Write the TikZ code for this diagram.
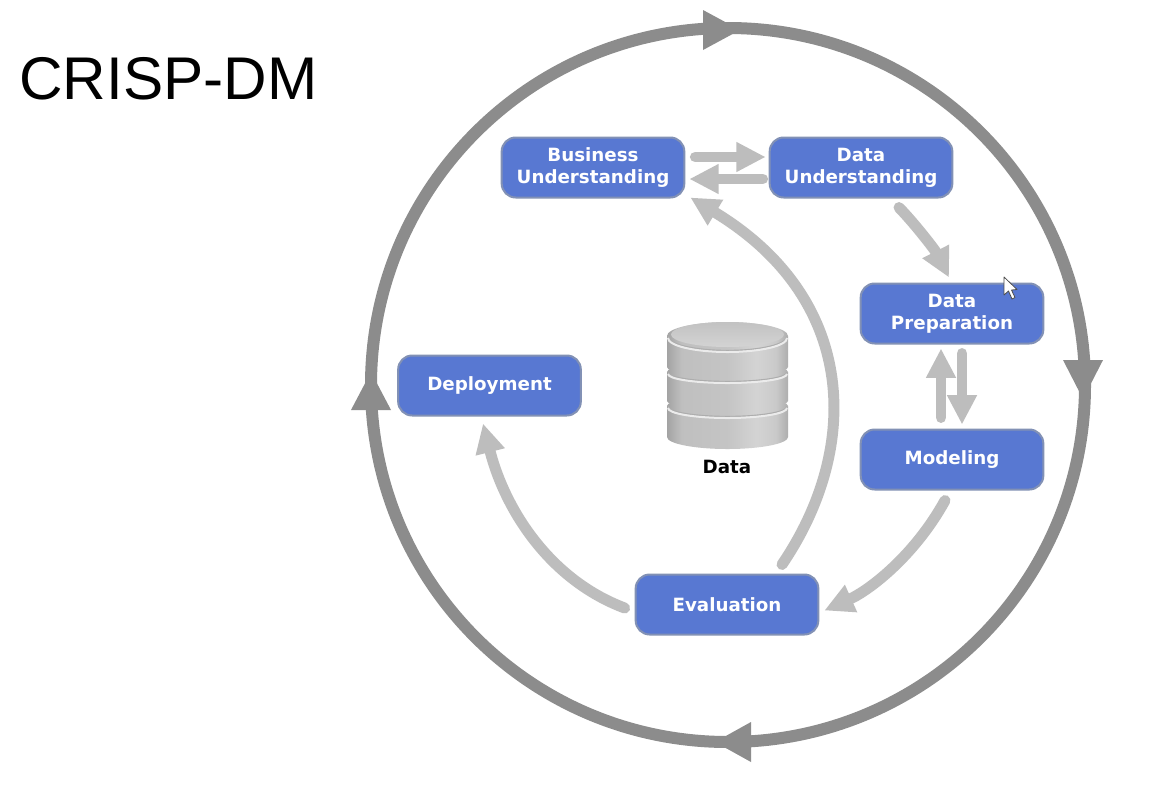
\documentclass[tikz,border=0pt]{standalone}
\usepackage{fontspec}
\setmainfont{DejaVu Sans}
\newfontfamily\titlefont{Liberation Sans}
\usetikzlibrary{arrows.meta,calc}
\definecolor{boxblue}{HTML}{5878D2}
\definecolor{boxedge}{HTML}{8291B5}
\definecolor{ringgray}{HTML}{8C8C8C}
\definecolor{flowgray}{HTML}{BDBDBD}
\pgfdeclarehorizontalshading{diskshade}{100bp}{
  color(0bp)=(black!36); color(25bp)=(black!36); color(31bp)=(black!25);
  color(50bp)=(black!23); color(62bp)=(black!17); color(70bp)=(black!21); color(75bp)=(black!32); color(100bp)=(black!32)}
\newcommand{\lowline}[1]{\raisebox{-0.8pt}{#1}}
\tikzset{
  x=0.75pt,y=-0.75pt,
  stage/.style={draw=boxedge,line width=1.5pt,fill=boxblue,rounded corners=10.5pt,
    minimum width=137pt,minimum height=45pt,inner sep=0pt,align=center,
    text=white,font=\fontsize{13.7}{16.5}\selectfont\bfseries},
  flow/.style={draw=flowgray,line width=8.2pt,line cap=round,
    -{Triangle[length=22pt,width=21pt,fill=flowgray]}},
  ring/.style={draw=ringgray,line width=9pt},
  ringhead/.style={fill=ringgray,draw=none},
  disk/.style={draw=none,shading=diskshade},
}
\newcommand{\datadisk}[4]{%
  % #1 edge top, #2 edge bottom, #3 top ellipse radius y, #4 bottom ellipse radius y
  \path[disk] (667,#1) arc[start angle=180,end angle=360,x radius=60.5,y radius=#3]
     -- (788,#2) arc[start angle=0,end angle=180,x radius=60.5,y radius=#4] -- cycle;
  \draw[black!32,line width=1pt] (668,#1+0.5) arc[start angle=180,end angle=0,x radius=59.5,y radius=#3];
  \draw[black!8,line width=1.5pt] (668,#1+2) arc[start angle=180,end angle=0,x radius=59.5,y radius=#3];
}
\begin{document}
\begin{tikzpicture}
\useasboundingbox (0,0) rectangle (1155,786);
\fill[white] (0,0) rectangle (1155,786);

\node[anchor=base west,inner sep=0pt,font=\titlefont\fontsize{45.2}{50}\selectfont] (title) at (19,99) {CRISP-DM};

% outer ring
\coordinate (ctr) at (728,385);
\draw[ring] (ctr) circle[radius=357];
\fill[ringhead] (703,10) -- (740,30) -- (703,50) -- cycle;
\fill[ringhead] (1063,360) -- (1103,360) -- (1083,399) -- cycle;
\fill[ringhead] (751,722) -- (751,762) -- (715,742) -- cycle;
\fill[ringhead] (351,410) -- (391,410) -- (371,372) -- cycle;

% stages
\node[stage] (bu) at (593,167.5) {\lowline{Business}\\\lowline{Understanding}};
\node[stage] (du) at (861,167.5) {\lowline{Data}\\\lowline{Understanding}};
\node[stage] (dp) at (952,313.5) {\lowline{Data}\\\lowline{Preparation}};
\node[stage] (mo) at (952,459.5) {\lowline{Modeling}};
\node[stage] (ev) at (727,604.5) {Evaluation};
\node[stage] (de) at (489.5,385.5) {\lowline{Deployment}};

% connectors
\draw[flow] ($(bu.east)+(10,-10.5)$) -- ($(du.west)+(-3,-10.5)$);
\draw[flow] ($(du.west)+(-6,11.5)$) -- ($(bu.east)+(4,11.5)$);
\draw[flow] ($(du.south)+(38,9)$) .. controls (915,224) and (935,250) .. ($(dp.north)+(-3,-5)$);
\draw[flow] ($(dp.south)+(10,9)$) -- ($(mo.north)+(10,-4)$);
\draw[flow] ($(mo.north)+(-11,-11)$) -- ($(dp.south)+(-11,4)$);
\draw[flow] ($(mo.south)+(-7,10)$) .. controls (915,555) and (870,590) .. ($(ev.east)+(5,6)$);
\draw[flow] ($(ev.west)+(-10,3.5)$) .. controls (550,580) and (505,510) .. ($(de.south)+(-6.5,7)$);
\draw[flow] ($(ev.north)+(55,-9)$) .. controls (860,450) and (860,300) .. ($(bu.south east)+(5,-1)$);

% data store
\datadisk{406}{437}{10}{12}
\datadisk{372}{401}{9}{8}
\datadisk{336}{367}{14}{10}
\shade[top color=black!24,bottom color=black!17] (727.5,334.5) ellipse[x radius=56.5,y radius=12.5];
\node[font=\fontsize{13.7}{14}\selectfont\bfseries,text=black,inner sep=0pt] (dl) at (727,467) {Data};

% mouse pointer
\draw[black!70,fill=white,line width=.6pt,line join=round] (1004,277) -- (1004,295) -- (1008.5,291) -- (1012,299) -- (1015,297.5) -- (1011.5,290) -- (1017,289.5) -- cycle;
\end{tikzpicture}
\end{document}
